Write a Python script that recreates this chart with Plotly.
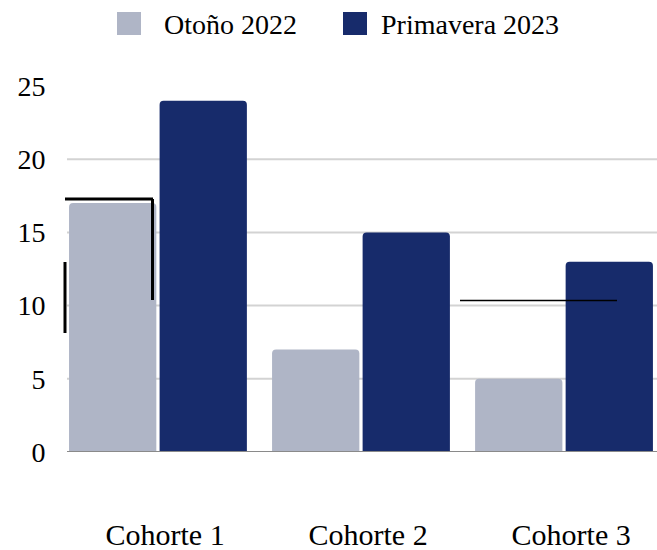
import plotly.graph_objects as go

categories = ["Cohorte 1", "Cohorte 2", "Cohorte 3"]
series_names = ["Otoño 2022", "Primavera 2023"]
otono_2022 = [17, 7, 5]
primavera_2023 = [24, 15, 13]
y_ticks = [0, 5, 10, 15, 20, 25]

colors = ["#AFB5C6", "#172B6B"]
FONT = "Liberation Serif"

W, H = 657, 550
# plot area in window pixels: x 67..657, y 86..452
L, R, T, B = 67, 0, 86, 550 - 452
PW, PH = W - L - R, H - T - B
X_RANGE = [-0.448, 2.458]
LABEL_SHIFT = 0.035  # category labels sit slightly right of the bar groups

positions = list(range(len(categories)))

def px(x):  # window pixel -> paper
    return (x - L) / PW

def py(y):
    return (H - B - y) / PH

fig = go.Figure()
for name, vals, col in zip(series_names, [otono_2022, primavera_2023], colors):
    fig.add_trace(go.Bar(
        x=positions, y=vals, name=name, showlegend=False,
        hovertext=categories,
        marker=dict(color=col, line=dict(width=0), cornerradius=4),
    ))

shapes = []
for v in y_ticks[1:-1]:
    shapes.append(dict(type="line", xref="paper", yref="y", x0=0, x1=1, y0=v, y1=v,
                       line=dict(color="#D3D3D3", width=2), layer="below"))
shapes.append(dict(type="line", xref="paper", yref="y", x0=0, x1=1, y0=0, y1=0,
                   line=dict(color="#8A8A8A", width=2), layer="above"))

# stray black marks seen in the picture
shapes += [
    dict(type="line", xref="paper", yref="paper", x0=px(65), x1=px(153), y0=py(199), y1=py(199),
         line=dict(color="black", width=3)),
    dict(type="line", xref="paper", yref="paper", x0=px(152.5), x1=px(152.5), y0=py(199), y1=py(300),
         line=dict(color="black", width=3)),
    dict(type="line", xref="paper", yref="paper", x0=px(65), x1=px(65), y0=py(262), y1=py(333),
         line=dict(color="black", width=3)),
    dict(type="line", xref="paper", yref="paper", x0=px(460), x1=px(617), y0=py(300.5), y1=py(300.5),
         line=dict(color="black", width=1.5)),
]

# manual legend
legend_sq = [(117, 141), (343, 367)]
legend_tx = [162, 379]
annotations = []
for (x0, x1), tx, name, col in zip(legend_sq, legend_tx, series_names, colors):
    shapes.append(dict(type="rect", xref="paper", yref="paper", x0=px(x0), x1=px(x1),
                       y0=py(12), y1=py(35), fillcolor=col, line=dict(width=0)))
    annotations.append(dict(xref="paper", yref="paper", x=px(tx), y=py(25), text=name,
                            showarrow=False, xanchor="left", yanchor="middle",
                            font=dict(family=FONT, size=28, color="black")))

fig.update_layout(
    width=W, height=H,
    margin=dict(l=L, r=R, t=T, b=B, pad=0, autoexpand=False),
    paper_bgcolor="white", plot_bgcolor="white",
    barmode="group", bargap=0.108, bargroupgap=0.036,
    font=dict(family=FONT, size=27, color="black"),
    shapes=shapes, annotations=annotations,
    xaxis=dict(type="linear", range=X_RANGE,
               tickmode="array", tickvals=[p + LABEL_SHIFT for p in positions], ticktext=categories,
               showgrid=False, zeroline=False, showline=False, automargin=False,
               ticks="outside", ticklen=56, tickcolor="rgba(0,0,0,0)",
               tickfont=dict(family=FONT, size=30, color="black")),
    yaxis=dict(range=[0, 25], tickvals=y_ticks, showgrid=False, zeroline=False, showline=False,
               automargin=False,
               ticks="outside", ticklen=15, tickcolor="rgba(0,0,0,0)",
               tickfont=dict(family=FONT, size=28, color="black")),
)

fig.write_html(
    "out.html",
    config={"displayModeBar": False},
    post_script="document.body.style.margin='0';document.body.style.overflow='hidden';",
)
